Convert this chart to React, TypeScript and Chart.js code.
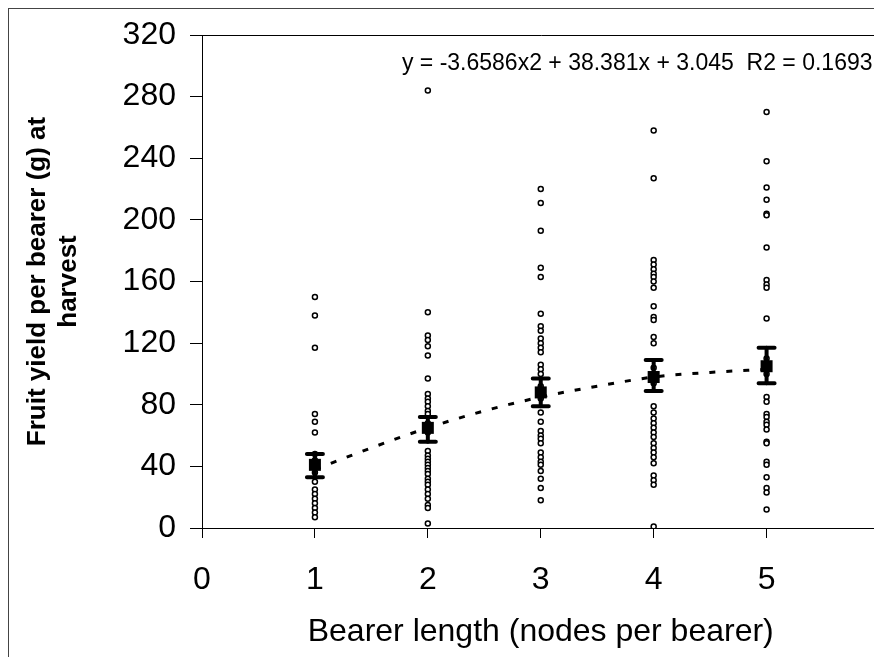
import React, { useEffect, useRef } from "react";
import { Chart, registerables } from "chart.js";

Chart.register(...registerables);

// Bearer length categories (nodes per bearer)
const bearerLengths = [1, 2, 3, 4, 5];

// Individual fruit yields per bearer (g) at harvest, one list per bearer length
const yieldsNode1 = [150, 138, 117, 74, 69, 62, 48, 44, 36, 30, 25, 22, 19, 16, 13, 10, 7];
const yieldsNode2 = [284, 140, 125, 122, 118, 112, 97, 87, 84, 82, 79, 76, 74, 68, 62, 50, 47, 45, 43, 41, 39, 37, 35, 32, 30, 28, 25, 22, 19, 15, 13, 3];
const yieldsNode3 = [220, 211, 193, 169, 163, 139, 131, 128, 123, 120, 117, 114, 106, 103, 100, 92, 84, 75, 69, 63, 60, 58, 55, 49, 46, 43, 41, 37, 32, 26, 18];
const yieldsNode4 = [258, 227, 174, 171, 168, 165, 163, 160, 156, 144, 137, 135, 124, 120, 104, 94, 79, 75, 71, 68, 65, 62, 59, 55, 52, 49, 46, 42, 34, 31, 28, 1];
const yieldsNode5 = [270, 238, 221, 213, 204, 203, 182, 161, 158, 156, 136, 110, 100, 85, 82, 74, 72, 69, 67, 64, 56, 55, 43, 41, 33, 26, 23, 12];

// Mean and error bar limits per bearer length
const meanYield = [41, 65, 88, 98, 105];
const errorLow = [33, 56, 79, 89, 94];
const errorHigh = [48, 72, 97, 109, 117];

// Polynomial trendline
const trendX = [1, 1.5, 2, 2.5, 3, 3.5, 4, 4.5, 5];
const trendY = [38, 52, 65, 76, 85, 92, 98, 101, 103];

// Axis ticks
const xTickValues = [0, 1, 2, 3, 4, 5];
const yTickValues = [0, 40, 80, 120, 160, 200, 240, 280, 320];

const equationText = "y = -3.6586x2 + 38.381x + 3.045  R2 = 0.1693";

const FONT = "'Liberation Sans', Arial, Helvetica, sans-serif";

export default function App() {
  const canvasRef = useRef<HTMLCanvasElement | null>(null);

  useEffect(() => {
    document.documentElement.style.overflow = "hidden";
    document.body.style.overflow = "hidden";
    const canvas = canvasRef.current;
    if (!canvas) return;

    const allYields = [yieldsNode1, yieldsNode2, yieldsNode3, yieldsNode4, yieldsNode5];
    const scatterPoints: { x: number; y: number }[] = [];
    allYields.forEach((list, i) => {
      list.forEach((v) => scatterPoints.push({ x: bearerLengths[i], y: v }));
    });

    const errorBarPlugin = {
      id: "errorBars",
      afterDatasetsDraw(chart: any) {
        const { ctx, scales } = chart;
        const xs = scales.x;
        const ys = scales.y;
        ctx.save();
        ctx.strokeStyle = "#000";
        ctx.lineCap = "round";
        bearerLengths.forEach((b, i) => {
          const px = xs.getPixelForValue(b);
          const pLow = ys.getPixelForValue(errorLow[i]);
          const pHigh = ys.getPixelForValue(errorHigh[i]);
          ctx.lineWidth = 4;
          ctx.beginPath();
          ctx.moveTo(px, pLow);
          ctx.lineTo(px, pHigh);
          ctx.stroke();
          ctx.beginPath();
          ctx.moveTo(px - 8, pLow);
          ctx.lineTo(px + 8, pLow);
          ctx.moveTo(px - 8, pHigh);
          ctx.lineTo(px + 8, pHigh);
          ctx.stroke();
          const pm = ys.getPixelForValue(meanYield[i]);
          ctx.fillStyle = "#000";
          ctx.fillRect(px - 6, pm - 6, 12, 12);
        });
        ctx.restore();
      },
    };

    const equationPlugin = {
      id: "equation",
      afterDraw(chart: any) {
        const { ctx, chartArea } = chart;
        ctx.save();
        ctx.font = `23px ${FONT}`;
        ctx.fillStyle = "#000";
        ctx.textAlign = "right";
        ctx.textBaseline = "middle";
        ctx.fillText(equationText, chartArea.right - 7, chartArea.top + 29);
        ctx.restore();
      },
    };

    const chart = new Chart(canvas, {
      type: "scatter",
      data: {
        datasets: [
          {
            type: "line",
            label: "Trend",
            data: trendX.map((x, i) => ({ x, y: trendY[i] })),
            borderColor: "#000",
            borderWidth: 3,
            borderDash: [6, 11],
            pointRadius: 0,
            fill: false,
            cubicInterpolationMode: "monotone",
          } as any,
          {
            label: "Yield",
            data: scatterPoints,
            pointStyle: "circle",
            pointRadius: 2.5,
            pointBorderWidth: 1.5,
            pointBackgroundColor: "#fff",
            pointBorderColor: "#000",
            showLine: false,
          } as any,
        ],
      },
      options: {
        responsive: false,
        animation: false,
        devicePixelRatio: 1,
        layout: { padding: { top: 26, right: 0, left: 0, bottom: 0 } },
        plugins: {
          legend: { display: false },
          tooltip: { enabled: false },
        },
        scales: {
          x: {
            type: "linear",
            min: 0,
            max: 6,
            afterBuildTicks(scale: any) {
              scale.ticks = xTickValues.map((v) => ({ value: v }));
            },
            afterFit(scale: any) {
              scale.height = 129;
              scale.paddingLeft = 0;
              scale.paddingRight = 0;
            },
            ticks: {
              color: "#000",
              font: { family: FONT, size: 32 },
              padding: 23,
              maxRotation: 0,
            },
            grid: {
              drawOnChartArea: false,
              drawTicks: true,
              tickLength: 10,
              tickColor: "#000",
              color: "#000",
            },
            border: { display: true, color: "#000", width: 1 },
            title: {
              display: true,
              text: "Bearer length (nodes per bearer)",
              color: "#000",
              font: { family: FONT, size: 32 },
              padding: { top: 0, bottom: 6 },
            },
          },
          y: {
            type: "linear",
            min: 0,
            max: 320,
            afterBuildTicks(scale: any) {
              scale.ticks = yTickValues.map((v) => ({ value: v }));
            },
            afterFit(scale: any) {
              scale.width = 193;
              scale.paddingTop = 0;
              scale.paddingBottom = 0;
            },
            ticks: {
              color: "#000",
              font: { family: FONT, size: 32 },
              padding: 14,
            },
            grid: {
              drawOnChartArea: true,
              drawTicks: true,
              tickLength: 12,
              tickColor: "#000",
              color: (ctx: any) => (ctx.tick && ctx.tick.value === 320 ? "#000" : "rgba(0,0,0,0)"),
            },
            border: { display: true, color: "#000", width: 1 },
            title: {
              display: true,
              text: ["Fruit yield per bearer (g) at", "harvest"],
              color: "#000",
              font: { family: FONT, size: 26, weight: "bold" },
              padding: { top: 13, bottom: 0 },
            },
          },
        },
      } as any,
      plugins: [errorBarPlugin, equationPlugin],
    });

    return () => chart.destroy();
  }, []);

  return (
    <div
      style={{
        width: 876,
        height: 660,
        border: "1px solid #444",
        background: "#fff",
        overflow: "hidden",
      }}
    >
      <canvas ref={canvasRef} width={876} height={648} style={{ display: "block" }} />
    </div>
  );
}
